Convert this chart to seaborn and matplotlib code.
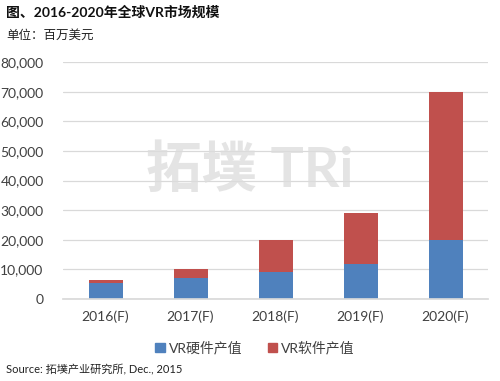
import matplotlib
matplotlib.use("Agg")
import matplotlib.pyplot as plt
import seaborn as sns
import pandas as pd
from matplotlib.patches import Patch

sns.set_theme(style="white")
plt.rcParams['font.family'] = ['Lato', 'Noto Sans CJK SC', 'DejaVu Sans']

# data (million USD)
years = ["2016(F)", "2017(F)", "2018(F)", "2019(F)", "2020(F)"]
hardware = [5300, 7000, 9000, 12000, 20000]
software = [1300, 3000, 10800, 17000, 50000]
series_names = ["VR硬件产值", "VR软件产值"]
y_ticks = [0, 10000, 20000, 30000, 40000, 50000, 60000, 70000, 80000]

BLUE = "#4F81BD"
RED = "#C0504D"

df = pd.DataFrame({"year": years, "hardware": hardware, "software": software})
df["total"] = df["hardware"] + df["software"]

fig = plt.figure(figsize=(5, 3.81), dpi=100)
ax = fig.add_axes([0.126, 0.215, 0.85, 0.622])

# stacked: draw totals first, hardware on top of it
sns.barplot(data=df, x="year", y="total", color=RED, width=0.4, ax=ax, saturation=1,
            linewidth=0)
sns.barplot(data=df, x="year", y="hardware", color=BLUE, width=0.4, ax=ax, saturation=1,
            linewidth=0)

ax.set_ylim(0, 80000)
ax.set_yticks(y_ticks)
ax.set_yticklabels([f"{v:,}" for v in y_ticks])
ax.yaxis.grid(True, color="#d9d9d9", linewidth=0.9)
ax.set_axisbelow(True)
for s in ["top", "right", "left"]:
    ax.spines[s].set_visible(False)
ax.spines["bottom"].set_color("#d9d9d9")
ax.tick_params(axis="both", length=0, colors="#404040", labelsize=10)
ax.tick_params(axis="y", pad=14)
ax.tick_params(axis="x", pad=8)
ax.set_xlabel("")
ax.set_ylabel("")
ax.set_xlim(-0.5, 4.5)

# watermark
fig.text(0.50, 0.555, "拓墣 TRi", fontsize=40, fontweight="bold", color="#dcdcdc",
         alpha=0.75, ha="center", va="center", zorder=0)

fig.text(0.012, 0.968, "图、2016-2020年全球VR市场规模", fontsize=10, fontweight="bold",
         color="#111111", ha="left", va="center")
fig.text(0.012, 0.908, "单位：百万美元", fontsize=9, color="#222222", ha="left", va="center")
fig.text(0.012, 0.030, "Source: 拓墣产业研究所, Dec., 2015", fontsize=8, color="#222222",
         ha="left", va="center")

handles = [Patch(color=BLUE, label=series_names[0]), Patch(color=RED, label=series_names[1])]
fig.legend(handles=handles, loc="center", bbox_to_anchor=(0.51, 0.088), ncol=2,
           frameon=False, fontsize=10, handlelength=0.7, handleheight=0.7,
           handletextpad=0.3, columnspacing=1.8, labelcolor="#404040")

fig.savefig("out.png", dpi=100)
